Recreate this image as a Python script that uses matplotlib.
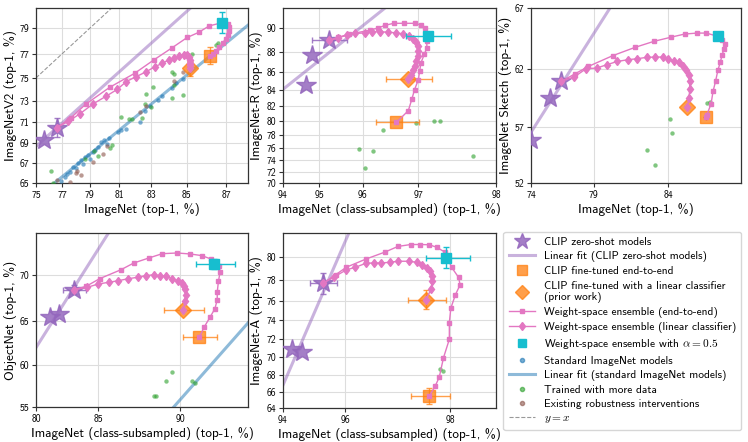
"""WiSE-FT style robustness plots: five distribution shifts vs ImageNet (logit axes)"""
import numpy as np
import matplotlib.pyplot as plt
from matplotlib.lines import Line2D

plt.rcParams['font.family'] = ['cmss10', 'DejaVu Sans']
plt.rcParams['mathtext.fontset'] = 'cm'
plt.rcParams['axes.formatter.use_mathtext'] = True

PURPLE = '#9467bd'
PINK = '#e377c2'
ORANGE = '#ff7f0e'
CYAN = '#17becf'
BLUE = '#1f77b4'
GREEN = '#2ca02c'
BROWN = '#8c564b'

####### ImageNetV2 #######
v2_zs_x = [75.6, 76.6]
v2_zs_y = [69.35, 70.5]
v2_zs_err = (0.2, 0.9)
v2_e2e_x = [76.6, 77.63, 78.73, 80.37, 81.97, 83.13, 84.19, 85.02, 85.62, 86.16, 86.8,
            87.1, 87.15, 87.13, 87.07, 86.97, 86.84, 86.67, 86.5, 86.34, 86.2]
v2_e2e_y = [70.5, 71.4, 72.69, 74.19, 75.39, 76.5, 77.49, 78.3, 78.69, 79.18, 79.43,
            79.33, 79.13, 78.82, 78.53, 78.22, 77.88, 77.57, 77.26, 77.0, 76.85]
v2_lin_x = [76.6, 77.46, 78.3, 79.25, 80.1, 80.87, 81.45, 82.07, 82.69, 83.19, 83.62,
            84.0, 84.32, 84.6, 84.83, 85.02, 85.12, 85.18, 85.15, 85.17, 85.18]
v2_lin_y = [70.5, 71.09, 71.8, 72.72, 73.38, 74.01, 74.69, 75.11, 75.53, 75.94, 76.22,
            76.5, 76.69, 76.83, 76.92, 76.9, 76.72, 76.5, 76.28, 76.06, 75.8]
v2_ft = (86.2, 76.85, 0.0, 0.7)
v2_ftlin = (85.18, 75.8, 0.0, 0.6)
v2_half = (86.8, 79.43, 0.0, 0.8)
v2_std_x = [76.9, 77.2, 77.4, 77.6, 77.8, 78.0, 78.2, 78.4, 78.5, 78.7, 78.9, 79.0, 79.2, 79.4, 79.6,
            79.8, 80.0, 80.2, 80.3, 80.9, 81.1, 81.4, 82.6, 82.9, 83.4, 83.6, 84.2, 84.4, 84.8, 82.3]
v2_std_y = [65.2, 65.6, 65.9, 66.1, 66.6, 66.5, 67.0, 67.3, 66.9, 67.6, 67.8, 67.4, 68.1, 68.3, 68.6,
            69.1, 69.3, 68.9, 69.5, 70.1, 70.3, 70.4, 72.1, 72.5, 73.1, 73.4, 74.1, 74.6, 74.9, 71.0]
v2_more_x = [76.2, 76.3, 78.7, 79.3, 79.6, 80.4, 80.5, 81.1, 81.6, 81.8, 82.6, 82.4, 82.7, 83.1,
             83.0, 84.2, 84.2, 84.3, 84.8, 85.3, 86.6, 86.5, 84.3]
v2_more_y = [66.2, 65.0, 67.4, 68.2, 67.7, 68.5, 68.8, 71.5, 71.3, 71.3, 72.7, 71.4, 73.6, 74.2,
             72.4, 73.2, 75.5, 75.3, 73.5, 77.0, 77.9, 77.7, 74.4]
v2_rob_x = [76.6, 77.6, 78.1, 78.4, 79.2, 79.9, 80.2, 82.3, 82.7, 84.3, 84.8, 78.0]
v2_rob_y = [65.3, 65.1, 66.2, 65.8, 67.1, 67.9, 68.7, 72.0, 72.5, 74.7, 75.5, 66.0]
v2_clipfit = (0.9695, -0.2791)
v2_stdfit = (0.883, -0.420)

####### ImageNet-R #######
r_zs_x = [94.65, 94.83, 95.24]
r_zs_y = [84.62, 87.75, 89.02]
r_zs_err = (0.42, 0.0)
r_e2e_x = [95.24, 95.46, 95.71, 96.14, 96.31, 96.44, 96.59, 96.77, 96.94, 97.04, 97.1,
           97.12, 97.13, 97.13, 97.09, 97.04, 97.02, 97.0, 96.94, 96.9, 96.84, 96.64]
r_e2e_y = [89.02, 89.28, 89.54, 89.86, 90.05, 90.25, 90.4, 90.4, 90.4, 90.27, 90.0,
           89.5, 88.93, 88.36, 87.77, 86.94, 86.1, 85.18, 84.06, 82.98, 81.45, 79.85]
r_lin_x = [95.24, 95.46, 95.67, 95.85, 96.04, 96.19, 96.34, 96.49, 96.64, 96.76, 96.85,
           96.92, 96.97, 96.99, 97.0, 96.99, 96.97, 96.94, 96.91, 96.88, 96.83]
r_lin_y = [89.02, 89.22, 89.48, 89.6, 89.65, 89.74, 89.74, 89.71, 89.65, 89.57, 89.37,
           89.14, 88.85, 88.5, 88.08, 87.6, 87.1, 86.6, 86.2, 85.73, 85.26]
r_ft = (96.64, 79.85, 0.37, 0.0)
r_ftlin = (96.83, 85.26, 0.38, 0.0)
r_half = (97.14, 89.37, 0.33, 0.0)
r_more_x = [95.92, 96.21, 96.04, 96.4, 96.97, 97.23, 97.32, 97.74]
r_more_y = [75.8, 75.6, 72.6, 78.8, 79.7, 80.0, 80.05, 74.68]
r_clipfit = (1.3016, -1.9161)

####### ImageNet Sketch #######
s_zs_x = [74.0, 75.56, 76.51]
s_zs_y = [55.86, 59.51, 60.94]
s_e2e_x = [76.51, 77.61, 78.62, 80.38, 81.9, 83.12, 84.19, 84.96, 85.65, 86.16, 86.76,
           86.98, 87.1, 87.07, 86.98, 86.88, 86.76, 86.64, 86.51, 86.41, 86.19, 86.16]
s_e2e_y = [60.94, 61.59, 62.21, 63.11, 63.8, 64.3, 64.65, 64.9, 64.98, 64.98, 64.71,
           64.44, 64.1, 63.67, 63.19, 62.55, 61.88, 60.94, 60.08, 59.02, 58.06, 57.85]
s_lin_x = [76.51, 77.53, 78.45, 79.23, 79.96, 80.71, 81.46, 82.06, 82.66, 83.18, 83.66,
           84.0, 84.33, 84.64, 84.87, 85.06, 85.21, 85.25, 85.25, 85.21, 85.12]
s_lin_y = [60.94, 61.31, 62.02, 62.07, 62.35, 62.63, 62.78, 62.86, 62.97, 63.0, 63.0,
           62.83, 62.69, 62.55, 62.22, 61.88, 61.51, 60.94, 60.28, 59.51, 58.73]
s_ft = (86.16, 57.85, 0.0, 0.0)
s_ftlin = (85.12, 58.73, 0.0, 0.0)
s_half = (86.76, 64.71, 0.0, 0.0)
s_more_x = [82.66, 83.18, 84.13, 84.25, 86.19, 86.33]
s_more_y = [54.97, 53.64, 57.71, 56.45, 59.08, 59.19]
s_clipfit = (1.266, -1.0623)

####### ObjectNet #######
o_zs_x = [81.2, 81.97, 83.22]
o_zs_y = [65.45, 65.85, 68.44]
o_zs_err = (0.9, 0.5)
o_e2e_x = [83.22, 84.13, 85.12, 86.58, 87.38, 88.3, 89.05, 89.84, 90.5, 91.04, 91.44,
           91.6, 91.81, 91.84, 91.77, 91.72, 91.72, 91.62, 91.4, 91.14, 90.93]
o_e2e_y = [68.44, 68.79, 69.59, 70.51, 71.18, 71.69, 72.11, 72.18, 72.08, 71.92, 71.59,
           71.12, 70.85, 70.27, 69.31, 68.19, 67.37, 66.4, 65.44, 64.34, 63.26]
o_lin_x = [83.22, 84.21, 85.0, 85.74, 86.4, 87.05, 87.62, 88.11, 88.59, 88.92, 89.23,
           89.58, 89.87, 90.09, 90.2, 90.25, 90.3, 90.25, 90.14]
o_lin_y = [68.44, 68.68, 69.03, 69.21, 69.38, 69.59, 69.73, 69.9, 70.0, 69.9, 69.83,
           69.59, 69.38, 69.14, 68.86, 68.46, 67.91, 67.19, 66.29]
o_ft = (90.93, 63.26, 0.8, 0.0)
o_ftlin = (90.14, 66.29, 1.0, 0.0)
o_half = (91.6, 71.12, 0.85, 0.5)
o_more_x = [88.59, 88.68, 89.23, 89.58, 90.58, 90.73]
o_more_y = [56.28, 56.36, 58.13, 59.17, 58.1, 57.9]
o_clipfit = (1.3754, -1.4161)
o_stdfit = (0.9846, -1.9265)

####### ImageNet-A #######
a_zs_x = [94.35, 94.7, 95.37]
a_zs_y = [70.98, 70.6, 77.65]
a_zs_err = (0.4, 1.0)
a_e2e_x = [95.37, 95.74, 96.02, 96.51, 96.91, 97.17, 97.4, 97.56, 97.7, 97.81, 97.93,
           98.02, 98.11, 98.13, 98.07, 98.01, 97.99, 97.99, 97.91, 97.85, 97.79, 97.7]
a_e2e_y = [77.65, 78.46, 79.12, 79.85, 80.43, 80.91, 81.07, 81.07, 81.05, 80.85, 80.43,
           79.12, 78.21, 77.53, 76.57, 75.26, 73.78, 72.01, 69.97, 67.73, 66.65, 65.44]
a_lin_x = [95.37, 95.7, 96.02, 96.25, 96.51, 96.68, 96.84, 97.01, 97.17, 97.37, 97.5,
           97.59, 97.66, 97.71, 97.74, 97.75, 97.73, 97.65]
a_lin_y = [77.65, 78.27, 78.88, 79.12, 79.48, 79.5, 79.5, 79.56, 79.65, 79.65, 79.56,
           79.36, 79.06, 78.76, 78.37, 77.84, 77.12, 76.09]
a_ft = (97.7, 65.44, 0.3, 1.0)
a_ftlin = (97.65, 76.09, 0.3, 0.9)
a_half = (97.95, 79.94, 0.3, 0.9)
a_more_x = [97.86, 97.91]
a_more_y = [68.65, 68.5]
a_clipfit = (1.8198, -4.3092)


def logit(p):
    p = np.clip(np.asarray(p, dtype=float), 1e-4, 100 - 1e-4)
    return np.log(p / (100 - p))


def expit(z):
    return 100 / (1 + np.exp(-np.asarray(z, dtype=float)))


def fit_line(ax, coef, xlim, color):
    xs = np.linspace(xlim[0], xlim[1], 300)
    ys = expit(coef[0] * logit(xs) + coef[1])
    ax.plot(xs, ys, color=color, alpha=0.5, lw=2.2, zorder=2)


def panel(ax, zs_x, zs_y, zs_err, e2e_x, e2e_y, lin_x, lin_y, ft, ftlin, half,
          clipfit, xlim, ylim, xticks, yticks, xlabel, ylabel,
          more=None, std=None, rob=None, stdfit=None, diag=False):
    ax.set_xscale('function', functions=(logit, expit))
    ax.set_yscale('function', functions=(logit, expit))

    if std is not None:
        ax.scatter(std[0], std[1], s=10, color=BLUE, alpha=0.6, lw=0, zorder=3)
    if more is not None:
        ax.scatter(more[0], more[1], s=10, color=GREEN, alpha=0.6, lw=0, zorder=3)
    if rob is not None:
        ax.scatter(rob[0], rob[1], s=10, color=BROWN, alpha=0.6, lw=0, zorder=3)
    if diag:
        ax.plot(xlim, xlim, color='gray', ls='--', lw=0.8, alpha=0.8, zorder=2)

    fit_line(ax, clipfit, xlim, PURPLE)
    if stdfit is not None:
        fit_line(ax, stdfit, xlim, BLUE)

    ax.plot(zs_x, zs_y, ls='none', marker='*', ms=15, color=PURPLE, alpha=0.85, zorder=4)
    if zs_err is not None:
        ax.errorbar(zs_x[-1], zs_y[-1], xerr=zs_err[0], yerr=zs_err[1], fmt='none',
                    ecolor=PURPLE, elinewidth=1, capsize=2, alpha=0.85, zorder=4)

    ax.plot(ft[0], ft[1], ls='none', marker='s', ms=8.5, color=ORANGE, alpha=0.75, zorder=5)
    ax.errorbar(ft[0], ft[1], xerr=ft[2], yerr=ft[3], fmt='none', ecolor=ORANGE,
                elinewidth=1, capsize=2, alpha=0.75, zorder=5)
    ax.plot(ftlin[0], ftlin[1], ls='none', marker='D', ms=8.5, color=ORANGE, alpha=0.75, zorder=5)
    ax.errorbar(ftlin[0], ftlin[1], xerr=ftlin[2], yerr=ftlin[3], fmt='none', ecolor=ORANGE,
                elinewidth=1, capsize=2, alpha=0.75, zorder=5)

    ax.plot(e2e_x, e2e_y, '-s', color=PINK, ms=3.5, lw=1, zorder=6)
    ax.plot(lin_x, lin_y, '-d', color=PINK, ms=4.5, lw=1, zorder=6)

    ax.plot(half[0], half[1], ls='none', marker='s', ms=6.5, color=CYAN, zorder=7)
    ax.errorbar(half[0], half[1], xerr=half[2], yerr=half[3], fmt='none', ecolor=CYAN,
                elinewidth=1, capsize=2, zorder=7)

    ax.set_xlim(xlim)
    ax.set_ylim(ylim)
    ax.set_xticks(xticks)
    ax.set_xticklabels([str(t) for t in xticks])
    ax.set_yticks(yticks)
    ax.set_yticklabels([str(t) for t in yticks])
    ax.minorticks_off()
    ax.tick_params(labelsize=7, length=3, width=0.8, color='#333333', pad=2)
    ax.grid(True, color='#dddddd', lw=0.8, zorder=0)
    ax.set_axisbelow(True)
    for sp in ax.spines.values():
        sp.set_color('#333333')
        sp.set_linewidth(0.9)
    ax.set_xlabel(xlabel, fontsize=9.5, labelpad=2)
    ax.set_ylabel(ylabel, fontsize=9.5, labelpad=2)


fig = plt.figure(figsize=(7.48, 4.42), dpi=100)
ax1 = fig.add_axes([0.0481, 0.5860, 0.2834, 0.3959])
ax2 = fig.add_axes([0.3783, 0.5860, 0.2848, 0.3959])
ax3 = fig.add_axes([0.7099, 0.5860, 0.2807, 0.3959])
ax4 = fig.add_axes([0.0481, 0.0792, 0.2834, 0.3937])
ax5 = fig.add_axes([0.3783, 0.0769, 0.2848, 0.3959])

panel(ax1, v2_zs_x, v2_zs_y, v2_zs_err, v2_e2e_x, v2_e2e_y, v2_lin_x, v2_lin_y,
      v2_ft, v2_ftlin, v2_half, v2_clipfit, (75, 88.0), (65, 80.5),
      [75, 77, 79, 81, 83, 85, 87], [65, 67, 69, 71, 73, 75, 77, 79],
      'ImageNet (top-1, %)', 'ImageNetV2 (top-1, %)',
      more=(v2_more_x, v2_more_y), std=(v2_std_x, v2_std_y), rob=(v2_rob_x, v2_rob_y),
      stdfit=v2_stdfit, diag=True)
panel(ax2, r_zs_x, r_zs_y, r_zs_err, r_e2e_x, r_e2e_y, r_lin_x, r_lin_y,
      r_ft, r_ftlin, r_half, r_clipfit, (94, 98), (70, 91.5),
      [94, 95, 96, 97, 98], [70, 72, 74, 76, 78, 80, 82, 84, 86, 88, 90],
      'ImageNet (class-subsampled) (top-1, %)', 'ImageNet-R (top-1, %)',
      more=(r_more_x, r_more_y))
panel(ax3, s_zs_x, s_zs_y, None, s_e2e_x, s_e2e_y, s_lin_x, s_lin_y,
      s_ft, s_ftlin, s_half, s_clipfit, (74, 87.9), (52, 67),
      [74, 79, 84], [52, 57, 62, 67],
      'ImageNet (top-1, %)', 'ImageNet Sketch (top-1, %)',
      more=(s_more_x, s_more_y))
panel(ax4, o_zs_x, o_zs_y, o_zs_err, o_e2e_x, o_e2e_y, o_lin_x, o_lin_y,
      o_ft, o_ftlin, o_half, o_clipfit, (80, 92.94), (55, 74.1),
      [80, 85, 90], [55, 60, 65, 70],
      'ImageNet (class-subsampled) (top-1, %)', 'ObjectNet (top-1, %)',
      more=(o_more_x, o_more_y), stdfit=o_stdfit)
panel(ax5, a_zs_x, a_zs_y, a_zs_err, a_e2e_x, a_e2e_y, a_lin_x, a_lin_y,
      a_ft, a_ftlin, a_half, a_clipfit, (94, 98.53), (64, 82),
      [94, 96, 98], [64, 66, 68, 70, 72, 74, 76, 78, 80],
      'ImageNet (class-subsampled) (top-1, %)', 'ImageNet-A (top-1, %)',
      more=(a_more_x, a_more_y))

handles = [
    Line2D([], [], ls='none', marker='*', ms=12, color=PURPLE, alpha=0.85),
    Line2D([], [], color=PURPLE, alpha=0.5, lw=2.2),
    Line2D([], [], ls='none', marker='s', ms=7, color=ORANGE, alpha=0.75),
    Line2D([], [], ls='none', marker='D', ms=7, color=ORANGE, alpha=0.75),
    Line2D([], [], marker='s', ms=3.5, color=PINK, lw=1),
    Line2D([], [], marker='d', ms=4.5, color=PINK, lw=1),
    Line2D([], [], ls='none', marker='s', ms=6, color=CYAN),
    Line2D([], [], ls='none', marker='o', ms=3, color=BLUE, alpha=0.6),
    Line2D([], [], color=BLUE, alpha=0.5, lw=2.2),
    Line2D([], [], ls='none', marker='o', ms=3, color=GREEN, alpha=0.6),
    Line2D([], [], ls='none', marker='o', ms=3, color=BROWN, alpha=0.6),
    Line2D([], [], color='gray', ls='--', lw=0.8, alpha=0.8),
]
labels = [
    'CLIP zero-shot models',
    'Linear fit (CLIP zero-shot models)',
    'CLIP fine-tuned end-to-end',
    'CLIP fine-tuned with a linear classifier\n(prior work)',
    'Weight-space ensemble (end-to-end)',
    'Weight-space ensemble (linear classifier)',
    r'Weight-space ensemble with $\alpha=0.5$',
    'Standard ImageNet models',
    'Linear fit (standard ImageNet models)',
    'Trained with more data',
    'Existing robustness interventions',
    r'$y=x$',
]
lgd = fig.legend(handles, labels, loc='center', bbox_to_anchor=(0.832, 0.251),
                 fontsize=8.2, frameon=True, fancybox=True, edgecolor='#cccccc',
                 handlelength=2.3, labelspacing=0.36, borderpad=0.45, handletextpad=0.8)

plt.savefig('out.png', dpi=100)
